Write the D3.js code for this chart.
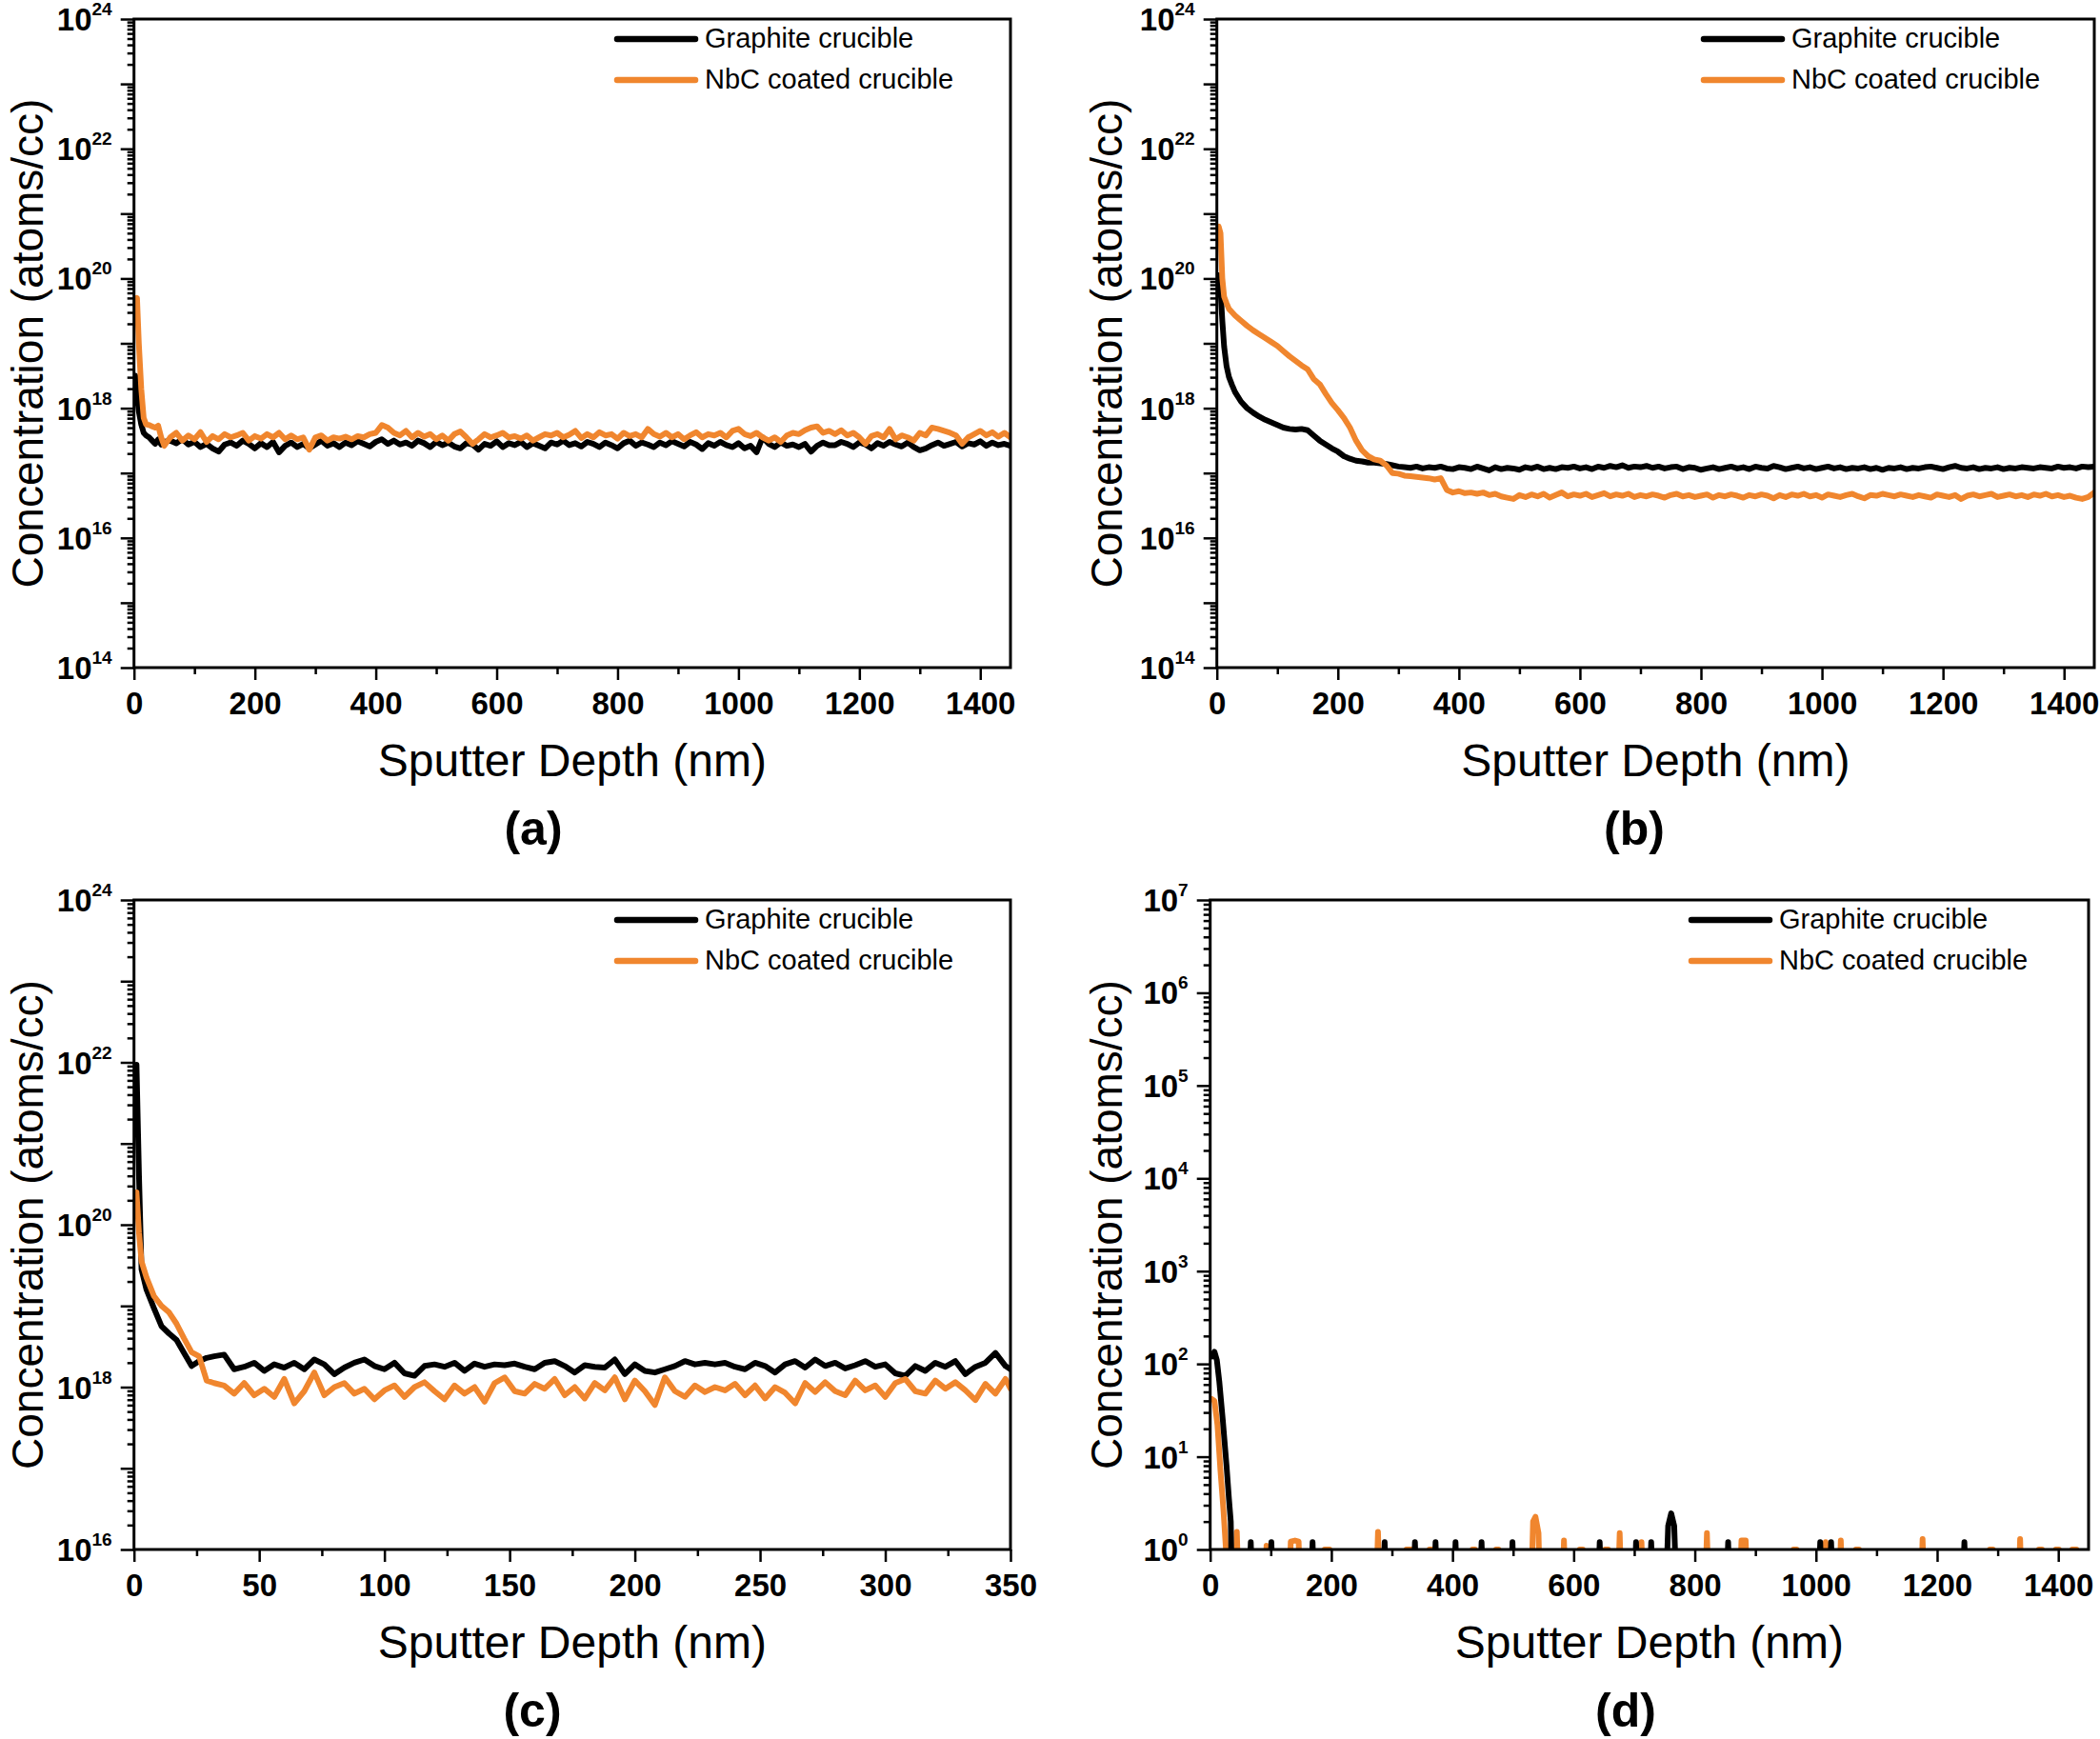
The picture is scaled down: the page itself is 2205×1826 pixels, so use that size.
<!DOCTYPE html>
<html lang="en">
<head>
<meta charset="UTF-8">
<title>SIMS depth profiles</title>
<script src="https://cdn.jsdelivr.net/npm/d3@7/dist/d3.min.js"></script>
<style>
  body { margin: 0; background: #fff; }
  text { font-family: 'Liberation Sans', Arial, sans-serif; }
</style>
</head>
<body>
<div class="chart"></div>
<script>
// legend entries, same in all four panels
const seriesNames = ['Graphite crucible', 'NbC coated crucible']

// (a) and (b): sputter depth in nm, fine steps near the surface, then every 10 nm
const depthA = [2, 5, 8, 12, 16, 20, 25, 30, 35, 40, 45, 50].concat(d3.range(60, 1451, 10))
const depthB = [3, 6, 9, 12, 16, 20, 25, 30, 40, 50].concat(d3.range(60, 1451, 10))
const depthC = [1, 2, 3, 5, 8, 11, 14, 17, 20, 23, 26, 29, 32].concat(d3.range(36, 349, 4), [350])

// concentrations as log10(atoms/cc)
const graphiteA = [18.5, 18.2, 17.95, 17.75, 17.62, 17.58, 17.55, 17.50, 17.45, 17.52, 17.44, 17.48,
  17.50, 17.46, 17.52, 17.44, 17.48, 17.40, 17.45, 17.38, 17.33, 17.44,
  17.47, 17.42, 17.50, 17.45, 17.38, 17.46, 17.40, 17.48, 17.32, 17.42,
  17.47, 17.40, 17.45, 17.38, 17.44, 17.50, 17.42, 17.46, 17.40, 17.47,
  17.43, 17.49, 17.45, 17.41, 17.48, 17.52, 17.45, 17.50, 17.44, 17.47,
  17.42, 17.50, 17.46, 17.40, 17.48, 17.43, 17.47, 17.41, 17.38, 17.46,
  17.44, 17.36, 17.45, 17.42, 17.49, 17.40, 17.46, 17.43, 17.48, 17.40,
  17.46, 17.42, 17.38, 17.47, 17.44, 17.50, 17.43, 17.46, 17.41, 17.48,
  17.45, 17.40, 17.47, 17.43, 17.38, 17.46, 17.50, 17.42, 17.47, 17.44,
  17.40, 17.47, 17.43, 17.49, 17.45, 17.41, 17.48, 17.44, 17.37, 17.46,
  17.42, 17.48, 17.43, 17.40, 17.46, 17.38, 17.42, 17.32, 17.55, 17.45,
  17.40, 17.47, 17.42, 17.44, 17.40, 17.45, 17.33, 17.42, 17.47, 17.43,
  17.43, 17.48, 17.45, 17.40, 17.47, 17.44, 17.38, 17.46, 17.42, 17.48,
  17.44, 17.41, 17.47, 17.40, 17.35, 17.38, 17.43, 17.47, 17.42, 17.45,
  17.48, 17.41, 17.46, 17.44, 17.49, 17.42, 17.47, 17.43, 17.45, 17.42]
const nbcA = [19.55, 19.70, 19.0, 18.3, 17.85, 17.75, 17.74, 17.72, 17.70, 17.73, 17.55, 17.42,
  17.55, 17.62, 17.50, 17.58, 17.52, 17.63, 17.48, 17.57, 17.52, 17.60,
  17.55, 17.58, 17.62, 17.50, 17.57, 17.53, 17.60, 17.55, 17.62, 17.52,
  17.58, 17.52, 17.55, 17.36, 17.55, 17.58, 17.50, 17.55, 17.53, 17.56,
  17.52, 17.57, 17.55, 17.60, 17.62, 17.74, 17.70, 17.62, 17.58, 17.65,
  17.55, 17.62, 17.56, 17.60, 17.52, 17.58, 17.50, 17.60, 17.64, 17.55,
  17.45, 17.52, 17.60, 17.55, 17.58, 17.62, 17.55, 17.57, 17.53, 17.58,
  17.50, 17.55, 17.60, 17.58, 17.62, 17.55, 17.59, 17.65, 17.54, 17.60,
  17.55, 17.63, 17.58, 17.60, 17.53, 17.62, 17.57, 17.60, 17.55, 17.68,
  17.60, 17.56, 17.62, 17.55, 17.60, 17.52, 17.58, 17.63, 17.55, 17.60,
  17.58, 17.62, 17.55, 17.65, 17.68, 17.60, 17.57, 17.62, 17.55, 17.50,
  17.55, 17.48, 17.58, 17.62, 17.60, 17.66, 17.70, 17.72, 17.62, 17.65,
  17.60, 17.66, 17.58, 17.62, 17.55, 17.45, 17.57, 17.60, 17.55, 17.68,
  17.52, 17.58, 17.55, 17.50, 17.62, 17.58, 17.70, 17.68, 17.65, 17.62,
  17.58, 17.45, 17.55, 17.60, 17.65, 17.58, 17.63, 17.56, 17.62, 17.55]

const graphiteB = [20.05, 19.85, 19.35, 18.95, 18.65, 18.48, 18.36, 18.25, 18.10, 18.00,
  17.93, 17.87, 17.82, 17.78, 17.74, 17.70, 17.68, 17.67, 17.68, 17.66,
  17.58, 17.50, 17.44, 17.38, 17.33, 17.26, 17.22, 17.19, 17.18, 17.16,
  17.16, 17.15, 17.14, 17.12, 17.10, 17.09, 17.08, 17.10, 17.07, 17.09,
  17.08, 17.10, 17.07, 17.06, 17.09, 17.08, 17.06, 17.10, 17.07, 17.04,
  17.09, 17.06, 17.08, 17.07, 17.05, 17.09, 17.07, 17.10, 17.06, 17.08,
  17.06, 17.09, 17.08, 17.10, 17.07, 17.09, 17.06, 17.10, 17.08, 17.11,
  17.09, 17.12, 17.08, 17.10, 17.09, 17.11, 17.08, 17.10, 17.07, 17.09,
  17.10, 17.06, 17.09, 17.08, 17.05, 17.07, 17.09, 17.06, 17.08, 17.10,
  17.07, 17.09, 17.06, 17.10, 17.08, 17.07, 17.11, 17.09, 17.06, 17.08,
  17.10, 17.07, 17.09, 17.06, 17.08, 17.10, 17.07, 17.09, 17.06, 17.08,
  17.07, 17.09, 17.06, 17.08, 17.05, 17.08, 17.07, 17.09, 17.06, 17.08,
  17.07, 17.09, 17.10, 17.08, 17.06, 17.09, 17.11, 17.08, 17.07, 17.09,
  17.06, 17.08, 17.07, 17.09, 17.06, 17.08, 17.07, 17.09, 17.08, 17.07,
  17.09, 17.08, 17.07, 17.10, 17.08, 17.09, 17.07, 17.10, 17.09, 17.10]
const nbcB = [20.8, 20.7, 20.0, 19.72, 19.62, 19.53, 19.48, 19.43, 19.35, 19.27,
  19.20, 19.14, 19.08, 19.02, 18.96, 18.88, 18.80, 18.73, 18.66, 18.60,
  18.45, 18.37, 18.22, 18.08, 17.97, 17.85, 17.70, 17.50, 17.35, 17.26,
  17.21, 17.19, 17.12, 17.00, 16.99, 16.96, 16.95, 16.94, 16.93, 16.92,
  16.90, 16.92, 16.74, 16.70, 16.72, 16.69, 16.70, 16.68, 16.70, 16.66,
  16.68, 16.64, 16.62, 16.60, 16.66, 16.63, 16.67, 16.64, 16.68, 16.62,
  16.66, 16.70, 16.64, 16.67, 16.65, 16.68, 16.63, 16.66, 16.69, 16.64,
  16.67, 16.65, 16.68, 16.63, 16.66, 16.64, 16.67, 16.65, 16.62, 16.66,
  16.68, 16.64, 16.66, 16.63, 16.65, 16.67, 16.62, 16.66, 16.64, 16.67,
  16.65, 16.62, 16.66, 16.64, 16.67, 16.65, 16.61, 16.66, 16.63, 16.67,
  16.65, 16.68, 16.64, 16.66, 16.62, 16.67, 16.65, 16.63, 16.66, 16.68,
  16.64, 16.61, 16.66, 16.65, 16.68, 16.66, 16.64, 16.67, 16.65, 16.63,
  16.66, 16.64, 16.62, 16.67, 16.65, 16.63, 16.66, 16.60, 16.65, 16.67,
  16.64, 16.66, 16.68, 16.63, 16.65, 16.67, 16.64, 16.66, 16.63, 16.67,
  16.65, 16.68, 16.64, 16.66, 16.63, 16.65, 16.62, 16.60, 16.63, 16.70]

const graphiteC = [21.97, 20.6, 19.45, 19.2, 18.97, 18.75, 18.66, 18.58, 18.42, 18.26, 18.32, 18.36, 18.38,
  18.40, 18.22, 18.25, 18.30, 18.20, 18.28, 18.24, 18.30, 18.22, 18.34,
  18.28, 18.16, 18.24, 18.30, 18.34, 18.26, 18.22, 18.30, 18.17, 18.14,
  18.26, 18.28, 18.25, 18.30, 18.20, 18.29, 18.25, 18.28, 18.27, 18.29,
  18.25, 18.22, 18.30, 18.32, 18.26, 18.18, 18.27, 18.25, 18.24, 18.34,
  18.16, 18.28, 18.20, 18.18, 18.22, 18.26, 18.32, 18.28, 18.30, 18.28,
  18.30, 18.25, 18.22, 18.30, 18.26, 18.18, 18.28, 18.32, 18.24, 18.34,
  18.26, 18.30, 18.23, 18.27, 18.32, 18.25, 18.28, 18.17, 18.14, 18.26,
  18.20, 18.30, 18.25, 18.32, 18.16, 18.25, 18.30, 18.42, 18.26,
  18.22]
const nbcC = [20.4, 19.9, 19.55, 19.35, 19.12, 19.0, 18.92, 18.78, 18.6, 18.43, 18.38, 18.08, 18.05,
  18.02, 17.92, 18.05, 17.90, 17.98, 17.88, 18.10, 17.80, 17.95, 18.18,
  17.90, 18.00, 18.05, 17.92, 17.98, 17.85, 17.96, 18.02, 17.88, 18.00,
  18.06, 17.95, 17.85, 18.02, 17.92, 18.00, 17.82, 18.05, 18.12, 17.95,
  17.92, 18.04, 17.98, 18.10, 17.90, 18.00, 17.86, 18.05, 17.96, 18.12,
  17.85, 18.08, 17.95, 17.78, 18.12, 17.95, 17.88, 18.02, 17.94, 18.00,
  17.96, 18.04, 17.90, 18.02, 17.86, 18.00, 17.93, 17.80, 18.05, 17.94,
  18.06, 17.95, 17.90, 18.08, 17.96, 18.02, 17.88, 18.05, 18.10, 17.95,
  17.92, 18.08, 17.98, 18.06, 17.96, 17.84, 18.04, 17.92, 18.10,
  17.98]

// (d): sparse counts, 0 = nothing detected (drawn below the axis and clipped)
const graphiteDDepth = [3, 7, 11, 15, 21, 27, 31, 34, 37, 62, 67, 72, 96, 101, 106, 164, 169, 174,
  283, 288, 293, 333, 338, 343, 367, 372, 377, 400, 405, 410, 443, 448, 453, 494, 499, 504,
  638, 643, 648, 698, 703, 708, 723, 728, 733, 750, 756, 761, 766, 772, 850, 855, 860,
  1002, 1007, 1012, 1020, 1025, 1030, 1240, 1245, 1250]
const graphiteDConc = [120, 135, 110, 65, 24, 8, 3.5, 2.0, 0, 0, 1.2, 0, 0, 1.2, 0, 0, 1.2, 0,
  0, 1.2, 0, 0, 1.2, 0, 0, 1.2, 0, 0, 1.2, 0, 0, 1.2, 0, 0, 1.2, 0,
  0, 1.2, 0, 0, 1.2, 0, 0, 1.2, 0, 0, 1.8, 2.45, 1.8, 0, 0, 1.2, 0,
  0, 1.2, 0, 0, 1.2, 0, 0, 1.2, 0]
const nbcDDepth = [2, 7, 12, 17, 22, 26, 30, 39, 44, 49, 88, 93, 98, 103, 128, 133, 140, 146, 151,
  186, 189, 197, 200, 272, 277, 282, 321, 324, 333, 336, 360, 362, 366, 369, 431, 433, 437, 440,
  470, 472, 476, 479, 528, 533, 537, 542, 546, 579, 584, 589, 608, 610, 615, 618, 650, 652, 657, 660,
  671, 676, 681, 707, 712, 717, 815, 820, 825, 872, 877, 884, 889, 961, 963, 968, 971,
  1011, 1016, 1021, 1036, 1041, 1046, 1064, 1066, 1071, 1074, 1171, 1176, 1181,
  1285, 1287, 1292, 1295, 1332, 1337, 1342, 1366, 1368, 1373, 1376, 1394, 1396, 1401, 1404,
  1421, 1423, 1430, 1433]
const nbcDConc = [42, 40, 22, 7, 2.6, 1.0, 0, 0, 1.55, 0, 0, 1.1, 1.05, 0, 0, 1.22, 1.25, 1.22, 0,
  0, 1, 1, 0, 0, 1.55, 0, 0, 1, 1, 0, 0, 1, 1, 0, 0, 1, 1, 0,
  0, 1, 1, 0, 0, 2.0, 2.25, 1.5, 0, 0, 1.25, 0, 0, 1, 1, 0, 0, 1, 1, 0,
  0, 1.5, 0, 0, 1.2, 0, 0, 1.5, 0, 0, 1.25, 1.25, 0, 0, 1, 1, 0,
  0, 1.2, 0, 0, 1.25, 0, 0, 1, 1, 0, 0, 1.3, 0,
  0, 1, 1, 0, 0, 1.3, 0, 0, 1, 1, 0, 0, 1, 1, 0,
  0, 1, 1, 0]

const colors = ['#000000', '#f0862e']
const width = 2205
const height = 1826
const svg = d3.select('.chart').append('svg')
  .attr('width', width)
  .attr('height', height)

const fromLog = arr => arr.map(e => Math.pow(10, e))

const panels = [
  { id: 'a', tag: '(a)', box: { left: 140.7, right: 1061, top: 20, bottom: 701 },
    xMax: 1450, xStep: 200, decades: [14, 24], labelEvery: 2, titleDx: -96, tagX: 560, legendDx: 0,
    series: [{ depth: depthA, conc: fromLog(graphiteA), c: 0 }, { depth: depthA, conc: fromLog(nbcA), c: 1 }] },
  { id: 'b', tag: '(b)', box: { left: 1277.7, right: 2199, top: 20, bottom: 701 },
    xMax: 1450, xStep: 200, decades: [14, 24], labelEvery: 2, titleDx: -100, tagX: 1716, legendDx: 3,
    series: [{ depth: depthB, conc: fromLog(graphiteB), c: 0 }, { depth: depthB, conc: fromLog(nbcB), c: 1 }] },
  { id: 'c', tag: '(c)', box: { left: 140.7, right: 1061, top: 945, bottom: 1627 },
    xMax: 350, xStep: 50, decades: [16, 24], labelEvery: 2, titleDx: -96, tagX: 559, legendDx: 0,
    series: [{ depth: depthC, conc: fromLog(graphiteC), c: 0 }, { depth: depthC, conc: fromLog(nbcC), c: 1 }] },
  { id: 'd', tag: '(d)', box: { left: 1270.7, right: 2193, top: 945, bottom: 1627 },
    xMax: 1450, xStep: 200, decades: [0, 7], labelEvery: 1, titleDx: -93, tagX: 1707, legendDx: -4,
    series: [{ depth: nbcDDepth, conc: nbcDConc, c: 1 }, { depth: graphiteDDepth, conc: graphiteDConc, c: 0 }] }
]

function styleAxis(g) {
  g.select('.domain').remove()
  g.selectAll('.tick line').attr('stroke', '#000').attr('stroke-width', 2.5)
  g.selectAll('.tick text')
    .attr('font-size', 33)
    .attr('font-weight', 'bold')
    .attr('fill', '#000')
    .style('font-family', "'Liberation Sans', Arial, sans-serif")
}

function drawPanel(p) {
  const b = p.box
  const g = svg.append('g')
  const x = d3.scaleLinear().domain([0, p.xMax]).range([b.left, b.right])
  const y = d3.scaleLog().domain([Math.pow(10, p.decades[0]), Math.pow(10, p.decades[1])]).range([b.bottom, b.top])
  const yPos = v => v > 0 ? y(v) : b.bottom + 90

  svg.append('defs').append('clipPath').attr('id', 'clip-' + p.id)
    .append('rect')
    .attr('x', b.left).attr('y', b.top)
    .attr('width', b.right - b.left).attr('height', b.bottom - b.top)

  // data lines
  const line = d3.line().x(d => x(d[0])).y(d => yPos(d[1]))
  p.series.forEach(s => {
    g.append('path')
      .datum(s.depth.map((d, i) => [d, s.conc[i]]))
      .attr('d', line)
      .attr('fill', 'none')
      .attr('stroke', colors[s.c])
      .attr('stroke-width', 6)
      .attr('stroke-linejoin', 'round')
      .attr('stroke-linecap', 'round')
      .attr('clip-path', 'url(#clip-' + p.id + ')')
  })

  // x axis, major and minor ticks
  const xMajor = d3.range(0, p.xMax + 1, p.xStep)
  const xMinor = d3.range(p.xStep / 2, p.xMax + 1, p.xStep)
  g.append('g')
    .attr('transform', `translate(0, ${b.bottom})`)
    .call(d3.axisBottom(x).tickValues(xMajor).tickSize(13).tickSizeOuter(0).tickPadding(13).tickFormat(d3.format('d')))
    .call(styleAxis)
  g.append('g')
    .attr('transform', `translate(0, ${b.bottom})`)
    .call(d3.axisBottom(x).tickValues(xMinor).tickSize(7).tickSizeOuter(0).tickFormat(''))
    .call(styleAxis)

  // y axis, a major tick per decade, minor ticks at 2..9
  const decades = d3.range(p.decades[0], p.decades[1] + 1)
  const yMinor = []
  decades.slice(0, -1).forEach(k => d3.range(2, 10).forEach(m => yMinor.push(m * Math.pow(10, k))))
  g.append('g')
    .attr('transform', `translate(${b.left}, 0)`)
    .call(d3.axisLeft(y).tickValues(decades.map(k => Math.pow(10, k))).tickSize(14).tickSizeOuter(0).tickFormat(''))
    .call(styleAxis)
  g.append('g')
    .attr('transform', `translate(${b.left}, 0)`)
    .call(d3.axisLeft(y).tickValues(yMinor).tickSize(7).tickSizeOuter(0).tickFormat(''))
    .call(styleAxis)

  decades.filter(k => (k - p.decades[0]) % p.labelEvery === 0).forEach(k => {
    const t = g.append('text')
      .attr('x', b.left - 23)
      .attr('y', y(Math.pow(10, k)) + 12)
      .attr('text-anchor', 'end')
      .attr('font-weight', 'bold')
    t.append('tspan').attr('font-size', 33).text('10')
    t.append('tspan').attr('font-size', 19).attr('dy', -16).text(k)
  })

  // frame
  g.append('rect')
    .attr('x', b.left).attr('y', b.top)
    .attr('width', b.right - b.left).attr('height', b.bottom - b.top)
    .attr('fill', 'none').attr('stroke', '#000').attr('stroke-width', 3)

  // titles
  g.append('text')
    .attr('x', (b.left + b.right) / 2)
    .attr('y', b.bottom + 114)
    .attr('text-anchor', 'middle')
    .attr('font-size', 48)
    .text('Sputter Depth (nm)')
  g.append('text')
    .attr('transform', `translate(${b.left + p.titleDx}, ${(b.top + b.bottom) / 2}) rotate(-90)`)
    .attr('text-anchor', 'middle')
    .attr('font-size', 46)
    .text('Concentration (atoms/cc)')
  g.append('text')
    .attr('x', p.tagX)
    .attr('y', b.bottom + 186)
    .attr('text-anchor', 'middle')
    .attr('font-size', 50)
    .attr('font-weight', 'bold')
    .text(p.tag)

  // legend
  seriesNames.forEach((name, i) => {
    const ly = b.top + 21 + 43 * i
    g.append('line')
      .attr('x1', b.right - 413 + p.legendDx).attr('x2', b.right - 331 + p.legendDx)
      .attr('y1', ly).attr('y2', ly)
      .attr('stroke', colors[i]).attr('stroke-width', 6.5).attr('stroke-linecap', 'round')
    g.append('text')
      .attr('x', b.right - 321 + p.legendDx)
      .attr('y', ly + 9)
      .attr('font-size', 29)
      .text(name)
  })
}

panels.forEach(drawPanel)
</script>
</body>
</html>
